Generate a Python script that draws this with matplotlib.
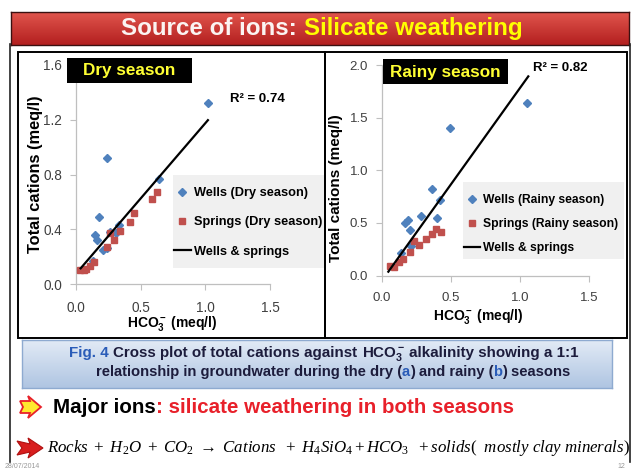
import numpy as np
import matplotlib
matplotlib.use("Agg")
import matplotlib.pyplot as plt
from matplotlib.patches import Rectangle, Polygon
from matplotlib.lines import Line2D
from matplotlib.colors import LinearSegmentedColormap

W, H = 637, 472

# dry season (a)
dry_wells_x = [1.02, 0.24, 0.64, 0.18, 0.15, 0.16, 0.26, 0.33, 0.31, 0.21, 0.24, 0.13]
dry_wells_y = [1.32, 0.92, 0.77, 0.49, 0.36, 0.32, 0.38, 0.43, 0.37, 0.25, 0.26, 0.17]
dry_springs_x = [0.63, 0.59, 0.45, 0.42, 0.34, 0.26, 0.29, 0.24, 0.14, 0.11, 0.08, 0.06, 0.03]
dry_springs_y = [0.67, 0.62, 0.52, 0.45, 0.39, 0.37, 0.32, 0.27, 0.16, 0.13, 0.11, 0.10, 0.10]
dry_trend = (1.10, 0.075)      # slope, intercept
dry_trend_x = [0.036, 1.02]
dry_r2 = "R² = 0.74"

# rainy season (b)
rainy_wells_x = [1.05, 0.49, 0.36, 0.42, 0.28, 0.19, 0.17, 0.40, 0.20, 0.21, 0.14]
rainy_wells_y = [1.64, 1.40, 0.82, 0.72, 0.57, 0.53, 0.50, 0.55, 0.43, 0.28, 0.21]
rainy_springs_x = [0.43, 0.39, 0.36, 0.32, 0.27, 0.23, 0.20, 0.15, 0.12, 0.09, 0.06]
rainy_springs_y = [0.41, 0.44, 0.39, 0.35, 0.29, 0.33, 0.22, 0.16, 0.13, 0.08, 0.09]
rainy_trend = (1.83, -0.048)
rainy_trend_x = [0.046, 1.06]
rainy_r2 = "R² = 0.82"

x_ticks = [0.0, 0.5, 1.0, 1.5]
dry_y_ticks = [0.0, 0.4, 0.8, 1.2, 1.6]
rainy_y_ticks = [0.0, 0.5, 1.0, 1.5, 2.0]

BLUE = "#4F81BD"
RED = "#C0504D"

plt.rcParams["font.family"] = ["Liberation Sans", "DejaVu Sans"]
plt.rcParams["mathtext.fontset"] = "custom"
plt.rcParams["mathtext.rm"] = "Liberation Serif"
plt.rcParams["mathtext.it"] = "Liberation Serif:italic"
plt.rcParams["mathtext.bf"] = "Liberation Sans:bold"

fig = plt.figure(figsize=(W / 100, H / 100), dpi=100)


def fx(x):
    return x / W


def fy(y):
    return 1 - y / H


def box(x0, y0, x1, y1):
    return [fx(x0), fy(y1), (x1 - x0) / W, (y1 - y0) / H]


def gradient(x0, y0, x1, y1, top, bottom, edge):
    a = fig.add_axes(box(x0, y0, x1, y1))
    cmap = LinearSegmentedColormap.from_list("g", [top, bottom])
    a.imshow(np.linspace(0, 1, 64).reshape(-1, 1), aspect="auto", cmap=cmap,
             extent=[0, 1, 0, 1])
    a.set_xticks([])
    a.set_yticks([])
    for s in a.spines.values():
        s.set_color(edge)
        s.set_linewidth(1)
    return a


def text_runs(x, y, runs, size, ha="left", weight="bold", **kw):
    # several coloured pieces of text on one line
    r = fig.canvas.get_renderer()
    probe1 = fig.text(0, 0, "x x", fontsize=size, fontweight=weight)
    probe2 = fig.text(0, 0, "xx", fontsize=size, fontweight=weight)
    sp = probe1.get_window_extent(r).width - probe2.get_window_extent(r).width
    probe1.remove()
    probe2.remove()
    items = []
    for s, c in runs:
        lead = len(s) - len(s.lstrip(" "))
        trail = len(s) - len(s.rstrip(" "))
        t = fig.text(0, fy(y), s.strip(" "), color=c, fontsize=size,
                     fontweight=weight, va="baseline", **kw)
        items.append((t, lead * sp, t.get_window_extent(r).width, trail * sp))
    total = sum(a + b + c for _, a, b, c in items)
    pos = x - total / 2 if ha == "center" else x
    for t, lead, w, trail in items:
        pos += lead
        t.set_x(fx(pos))
        pos += w + trail


# slide frame and title bar
fig.add_artist(Line2D([fx(10), fx(10)], [fy(44), fy(462)], color="#222222", lw=1.2))
fig.add_artist(Line2D([fx(630), fx(630)], [fy(44), fy(462)], color="#222222", lw=1.2))
gradient(11, 12, 629, 45, "#E2574E", "#B31F1F", "#3a1010")
text_runs(322, 35, [("Source of ions: ", "#FBF4F2"), ("Silicate weathering", "#FFFF00")], 17.4,
          ha="center")

# chart panels
fig.add_artist(Rectangle((fx(18), fy(338)), (325 - 18) / W, (338 - 52) / H,
                         transform=fig.transFigure, fill=False, ec="black", lw=1.4))
fig.add_artist(Rectangle((fx(325), fy(338)), (627 - 325) / W, (338 - 52) / H,
                         transform=fig.transFigure, fill=False, ec="black", lw=1.4))


def make_panel(rect, wx, wy, sx, sy, trend, trend_x, yticks, ymax, season, tick_size, leg):
    ax = fig.add_axes(rect)
    ax.set_facecolor("none")
    ax.plot(wx, wy, ls="none", marker="D", ms=4.0, color=BLUE, mec=BLUE,
            label="Wells (%s season)" % season, zorder=3)
    ax.plot(sx, sy, ls="none", marker="s", ms=4.6, color=RED, mec=RED,
            label="Springs (%s season)" % season, zorder=3)
    tx = np.array(trend_x)
    ax.plot(tx, trend[0] * tx + trend[1], color="black", lw=1.6,
            label="Wells & springs", zorder=4)
    ax.set_xlim(0, 1.5)
    ax.set_ylim(0, ymax)
    ax.set_xticks(x_ticks)
    ax.set_yticks(yticks)
    ax.xaxis.set_major_formatter("{x:.1f}")
    ax.yaxis.set_major_formatter("{x:.1f}")
    for side in ("top", "right"):
        ax.spines[side].set_visible(False)
    for side in ("left", "bottom"):
        ax.spines[side].set_color("#BFBFBF")
        ax.spines[side].set_linewidth(0.9)
    ax.tick_params(direction="out", length=4, color="#BFBFBF", labelcolor="#404040",
                   labelsize=tick_size)
    ax.tick_params(axis="x", pad=8)
    ax.tick_params(axis="y", pad=6)

    x0, y0, x1, y1, spacing, fsize = leg
    fig.add_artist(Rectangle((fx(x0), fy(y1)), (x1 - x0) / W, (y1 - y0) / H,
                             transform=fig.transFigure, color="#F0F0F0", lw=0, zorder=-1))
    ax.legend(loc="upper left", bbox_to_anchor=(fx(x0 + 1), fy(y0 + 12)),
              bbox_transform=fig.transFigure, frameon=False, borderpad=0,
              borderaxespad=0, handlelength=1.3, handletextpad=0.25,
              labelspacing=spacing, prop={"weight": "bold", "size": fsize})
    return ax


ax1 = make_panel(box(76, 65, 270, 284), dry_wells_x, dry_wells_y, dry_springs_x, dry_springs_y,
                 dry_trend, dry_trend_x, dry_y_ticks, 1.6, "Dry", 9.8,
                 (173, 175, 324, 268, 1.35, 9.2))
ax2 = make_panel(box(382, 65, 589, 275.5), rainy_wells_x, rainy_wells_y, rainy_springs_x,
                 rainy_springs_y, rainy_trend, rainy_trend_x, rainy_y_ticks, 2.0, "Rainy", 9.5,
                 (463, 182, 624, 259, 1.0, 8.7))

for ax, (lx, ly), (yx, yy), ysize in ((ax1, (172, 314), (43, 174), 11.8),
                                      (ax2, (478, 307), (343, 188), 11)):
    ax.set_xlabel(r"$\mathbf{HCO_3^-}$ (meq/l)", fontweight="bold", fontsize=10)
    ax.xaxis.set_label_coords(fx(lx), fy(ly), transform=fig.transFigure)
    ax.set_ylabel("Total cations (meq/l)", fontweight="bold", fontsize=ysize)
    ax.yaxis.set_label_coords(fx(yx), fy(yy), transform=fig.transFigure)

# season badges and R² values
for (x0, y0, x1, y1), label in (((67, 58, 192, 83), "Dry season"),
                                ((383, 59, 508, 84), "Rainy season")):
    fig.add_artist(Rectangle((fx(x0), fy(y1)), (x1 - x0) / W, (y1 - y0) / H,
                             transform=fig.transFigure, color="black", lw=0))
    fig.text(fx((x0 + x1) / 2), fy((y0 + y1) / 2 + 0.5), label, color="#FFFF33",
             fontsize=12.3, fontweight="bold", ha="center", va="center")
fig.text(fx(230), fy(99), dry_r2, fontsize=9.5, fontweight="bold", va="center")
fig.text(fx(533), fy(68), rainy_r2, fontsize=9.5, fontweight="bold", va="center")

# figure caption
gradient(22, 340, 612, 388, "#E3EBF6", "#AFC5E2", "#8EAAD0")
NAVY = "#1C1C3C"
FIGBLUE = "#2A5CB8"
text_runs(324, 357, [("Fig. 4", FIGBLUE), (" Cross plot of total cations against ", NAVY),
                     (r"$\mathbf{HCO_3^-}$", NAVY), (" alkalinity showing a 1:1", NAVY)],
          10.9, ha="center")
text_runs(333, 376, [("relationship in groundwater during the dry (", NAVY), ("a", FIGBLUE),
                     (") and rainy (", NAVY), ("b", FIGBLUE), (") seasons", NAVY)],
          10.6, ha="center")

# conclusion lines
fig.add_artist(Polygon([(fx(p[0]), fy(p[1])) for p in
                        [(20, 401), (30, 401), (28, 396), (41, 407), (28, 418), (30, 413),
                         (20, 413), (23, 407)]],
                       closed=True, transform=fig.transFigure, fc="#FFE92E", ec="#E8202A",
                       lw=1.3))
text_runs(53, 413, [("Major ions", "black"), (": silicate weathering in both seasons", "#E8202A")],
          14.8)

fig.add_artist(Polygon([(fx(p[0]), fy(p[1])) for p in
                        [(17, 441), (30, 444), (28, 438), (43, 448), (28, 458), (30, 452),
                         (17, 455), (22, 448)]],
                       closed=True, transform=fig.transFigure, fc="#D81E1E", ec="#B01010",
                       lw=0.8))
fig.text(fx(47), fy(448),
         r"$Rocks\ +\ H_2O\ +\ CO_2\ \rightarrow\ Cations\ \ +\ H_4SiO_4 + HCO_3\ \ + solids(\ \ mostly\ clay\ minerals)$",
         fontsize=12.2, va="center", color="black")

fig.text(fx(5), fy(467), "28/07/2014", fontsize=5, color="#999999", va="center")
fig.text(fx(625), fy(466), "12", fontsize=5, color="#999999", va="center", ha="right")

fig.savefig("out.png", dpi=100)
